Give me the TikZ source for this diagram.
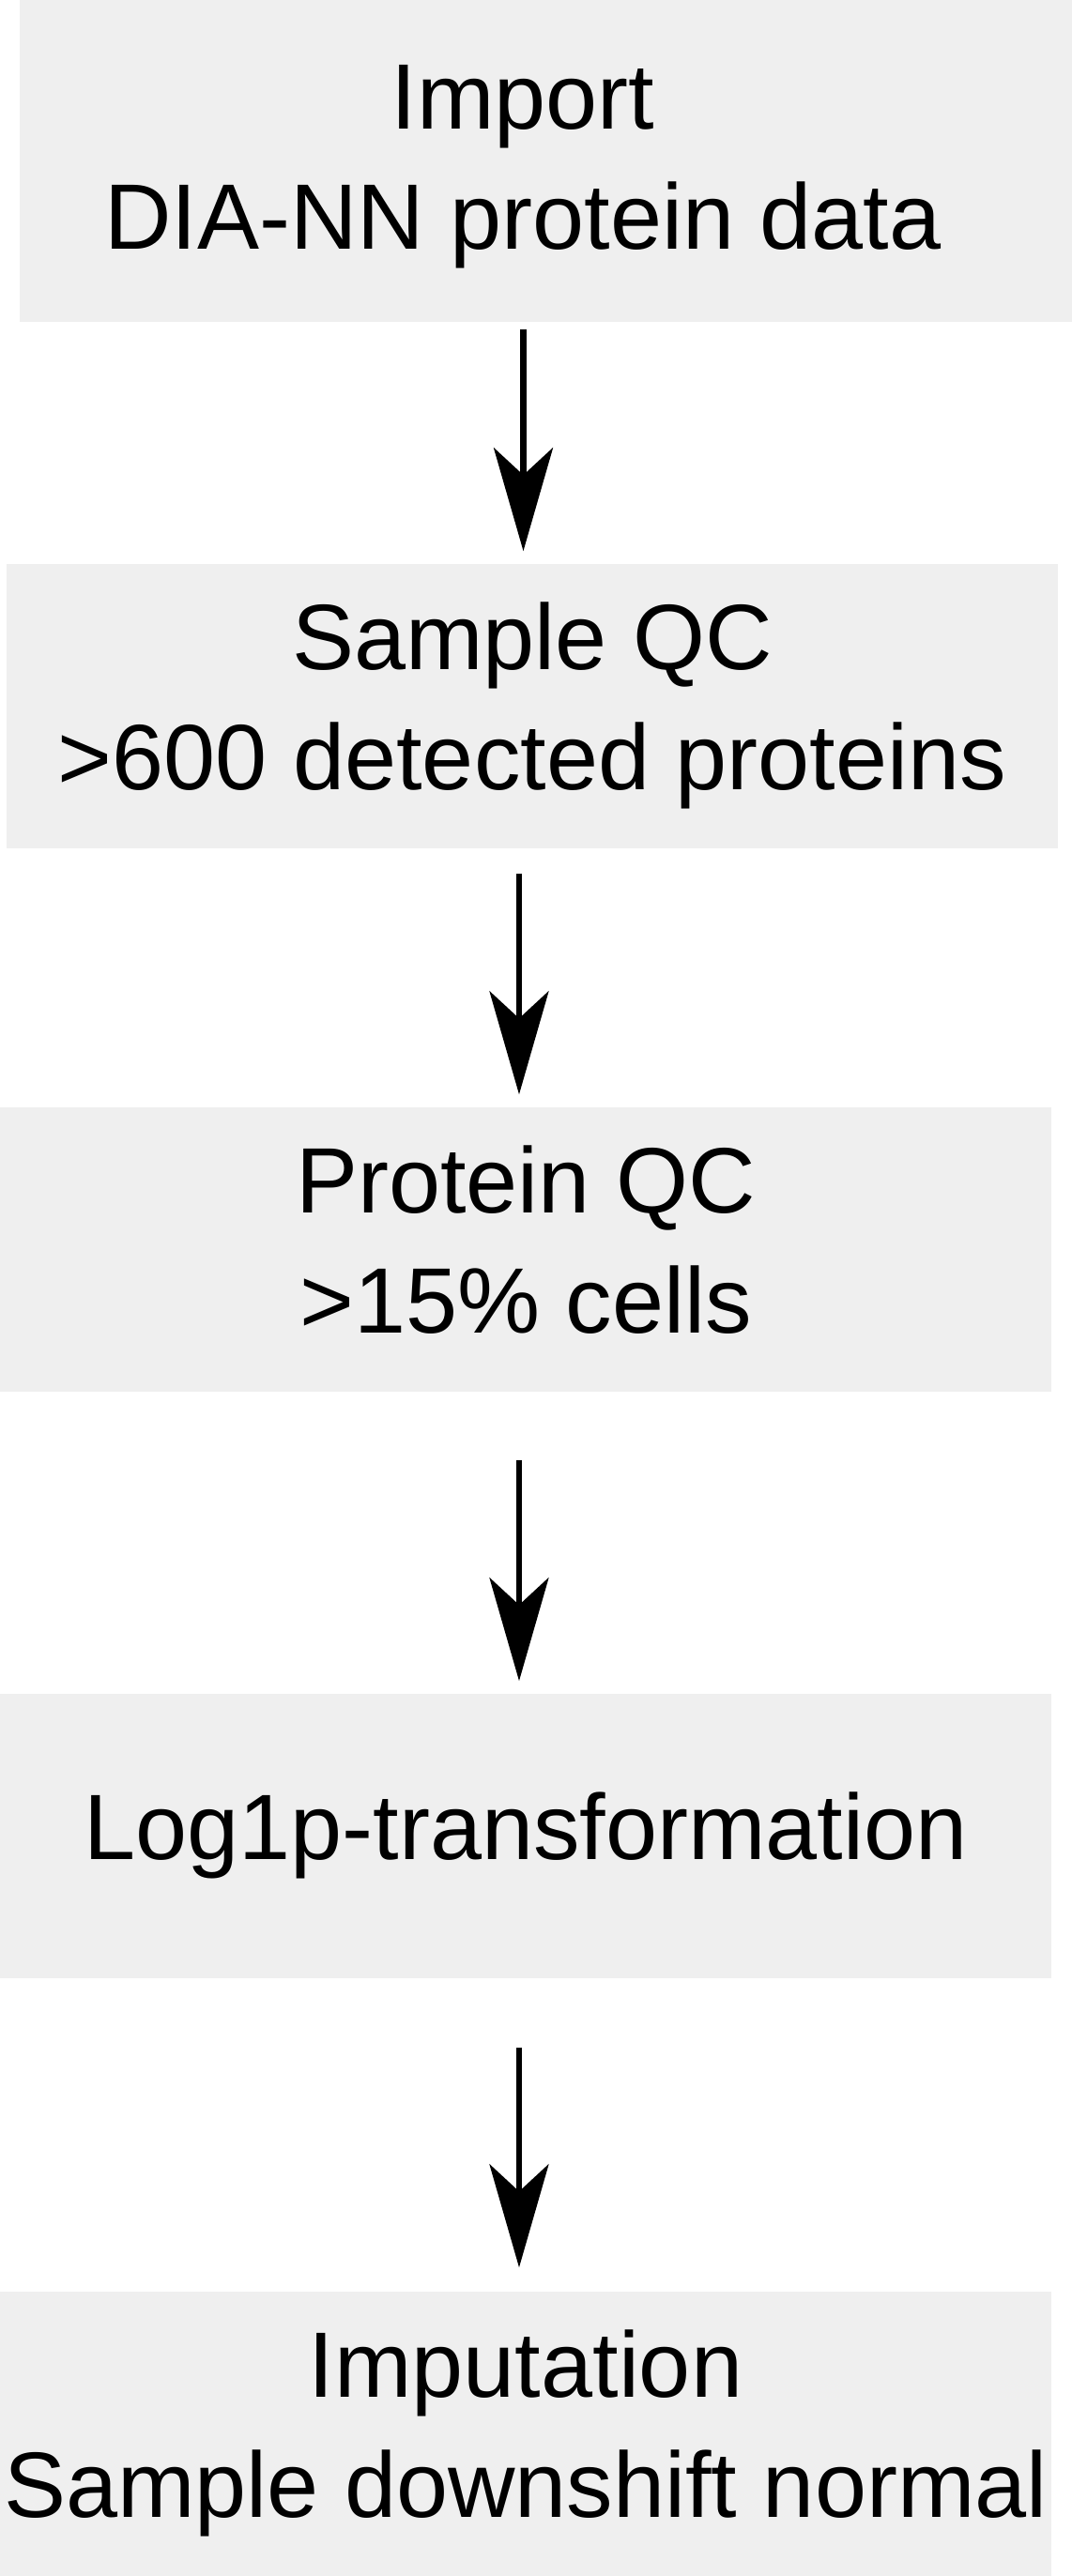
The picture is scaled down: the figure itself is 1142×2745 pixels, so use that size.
\documentclass[tikz,border=0pt]{standalone}
\usepackage{fontspec}
\setmainfont{Liberation Sans}
\usetikzlibrary{arrows.meta}
\definecolor{boxgray}{RGB}{239,239,239}

\begin{document}
\begin{tikzpicture}[x=0.25pt,y=-0.25pt,
  stepbox/.style={fill=boxgray,minimum width=280pt,minimum height=75.75pt,inner sep=0pt,
    align=center,text depth=5.25pt,font=\fontsize{24.75pt}{32pt}\selectfont},
  flow/.style={-{Stealth[length=27.5pt,width=15.75pt,inset=7.25pt]},line width=1.6pt}]
  \useasboundingbox (0,0) rectangle (1142,2745);

% import (fill is wider than the text block)
  \node[stepbox,minimum width=280.25pt,minimum height=85.75pt] (imp) at (581.5,171.5) {};
  \node[stepbox,fill=none,minimum width=0pt,minimum height=0pt] (imptext) at (557,177.5) {Import\\DIA-NN protein data};

% processing steps
  \node[stepbox] (sampleqc) at (567,752.5) {Sample QC\\>600 detected proteins};
  \node[stepbox] (protqc) at (560,1331.5) {Protein QC\\>15\% cells};
  \node[stepbox] (logtrans) at (560,1956.5) {Log1p-transformation};
  \node[stepbox] (imput) at (560,2593.5) {Imputation\\Sample downshift normal};

% arrows
  \coordinate (colA) at (557.5,0);
  \coordinate (colB) at (553,0);
  \foreach \from/\to/\col/\gapa/\gapb in {imp/sampleqc/colA/1.75pt/3.25pt,
      sampleqc/protqc/colB/6.5pt/3.25pt,protqc/logtrans/colB/18pt/3.25pt,
      logtrans/imput/colB/18.25pt/6.25pt}{
    \draw[flow,shorten <=\gapa,shorten >=\gapb] (\from.south -| \col) -- (\to.north -| \col);
  }

\end{tikzpicture}
\end{document}
